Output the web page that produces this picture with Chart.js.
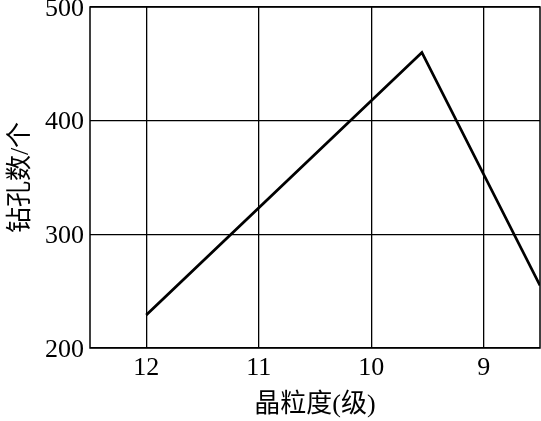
<!DOCTYPE html>
<html>
<head>
<meta charset="utf-8">
<script src="https://cdn.jsdelivr.net/npm/chart.js@4"></script>
<style>
html,body{margin:0;padding:0;background:#fff;}
#wrap{width:541px;height:421px;}
</style>
</head>
<body>
<div id="wrap"><canvas id="c" width="541" height="421"></canvas></div>
<script>
const grainSize = [12, 9.55, 8.5];
const drillCount = [229, 460, 255];
const xTicks = [12, 11, 10, 9];
const yTicks = [200, 300, 400, 500];
const xTitle = '晶粒度(级)';
const yTitle = '钻孔数/个';

const FONT = "'Liberation Serif', 'Noto Sans CJK SC', serif";

const frame = {
  id: 'frame',
  afterDraw(chart) {
    const a = chart.chartArea, ctx = chart.ctx;
    ctx.save();
    ctx.strokeStyle = '#000';
    ctx.lineWidth = 1.5;
    ctx.strokeRect(a.left, a.top, a.right - a.left, a.bottom - a.top);
    ctx.restore();
  }
};

new Chart(document.getElementById('c'), {
  type: 'line',
  data: {
    datasets: [{
      data: grainSize.map((x, i) => ({x: x, y: drillCount[i]})),
      borderColor: '#000',
      borderWidth: 2.8,
      pointRadius: 0,
      tension: 0,
      fill: false
    }]
  },
  options: {
    responsive: false,
    animation: false,
    devicePixelRatio: 1,
    layout: {padding: {top: 7, right: 1, left: 0, bottom: 0}},
    plugins: {legend: {display: false}, tooltip: {enabled: false}},
    scales: {
      x: {
        type: 'linear',
        reverse: true,
        min: 8.5,
        max: 12.5,
        afterBuildTicks(s) { s.ticks = xTicks.map(v => ({value: v})); },
        afterFit(s) { s.height = 73; s.paddingLeft = 0; s.paddingRight = 0; },
        ticks: {
          color: '#000',
          font: {family: FONT, size: 26},
          padding: 5,
          maxRotation: 0,
          callback: v => String(v)
        },
        grid: {color: '#000', lineWidth: 1.3, drawTicks: false},
        border: {display: false},
        title: {
          display: true,
          text: xTitle,
          color: '#000',
          font: {family: FONT, size: 26},
          padding: {top: 0, bottom: 0}
        }
      },
      y: {
        type: 'linear',
        min: 200,
        max: 500,
        afterBuildTicks(s) { s.ticks = yTicks.map(v => ({value: v})); },
        afterFit(s) { s.width = 90; s.paddingTop = 0; s.paddingBottom = 0; },
        ticks: {
          color: '#000',
          font: {family: FONT, size: 26},
          padding: 6,
          labelOffset: 2,
          callback: v => String(v)
        },
        grid: {color: '#000', lineWidth: 1.3, drawTicks: false},
        border: {display: false},
        title: {
          display: true,
          text: yTitle,
          color: '#000',
          font: {family: FONT, size: 26},
          padding: {top: 6, bottom: 0}
        }
      }
    }
  },
  plugins: [frame]
});
</script>
</body>
</html>
